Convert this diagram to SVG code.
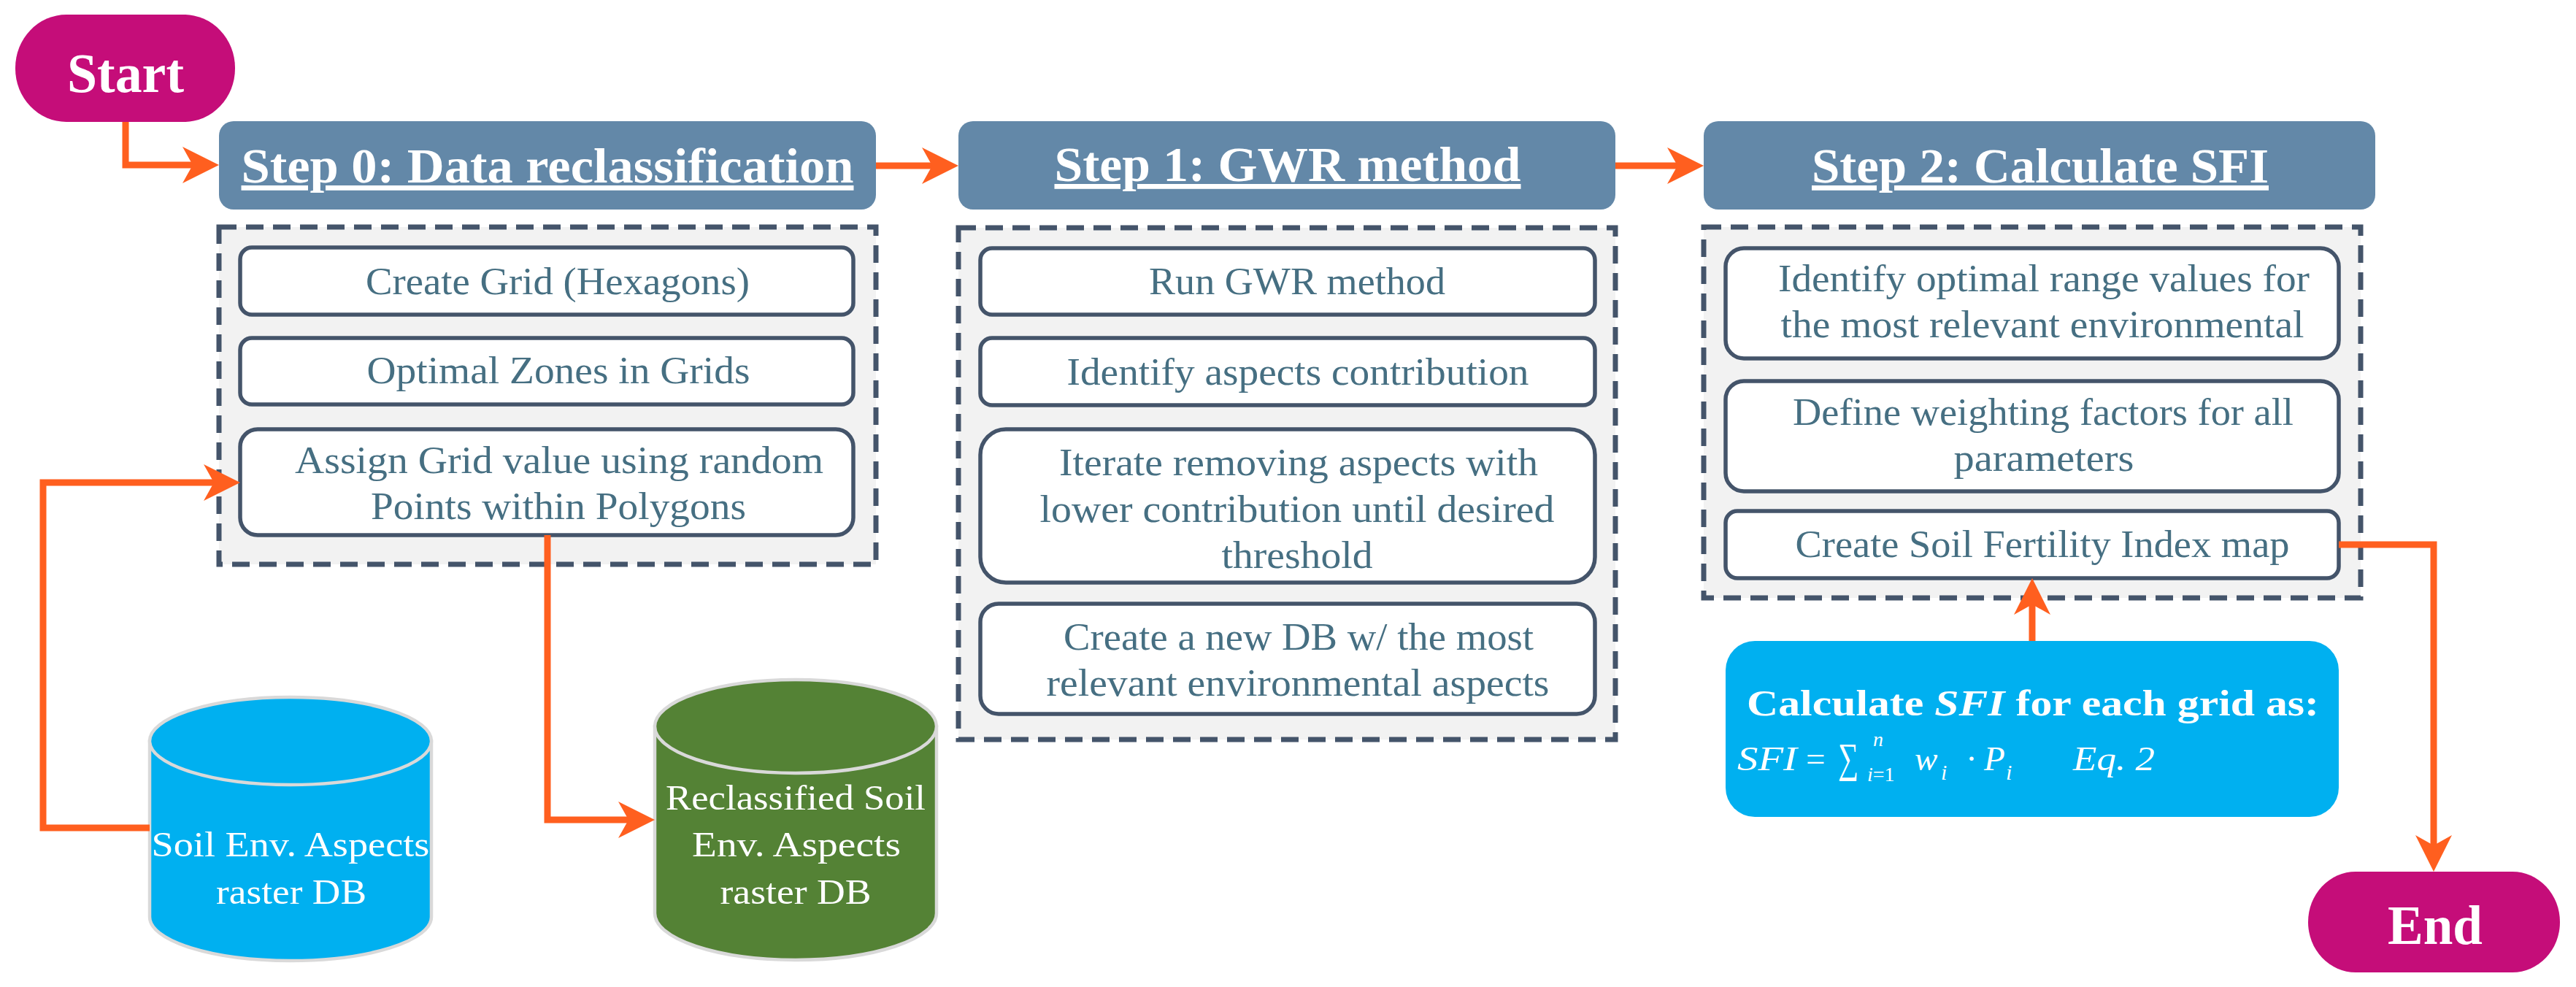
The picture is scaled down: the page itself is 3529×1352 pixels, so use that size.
<svg xmlns="http://www.w3.org/2000/svg" width="3529" height="1352" viewBox="0 0 3529 1352">
<style>
.bg{fill:#ffffff}
.term{fill:#C50D79}
.termtxt{font-family:"Liberation Serif","DejaVu Serif",serif;font-weight:bold;font-size:76px;fill:#ffffff;text-anchor:middle}
.hdr{fill:#6388A8}
.hdtxt{font-family:"Liberation Serif","DejaVu Serif",serif;font-weight:bold;font-size:68px;fill:#ffffff;text-anchor:middle;text-decoration:underline}
.cont{fill:#F2F2F2;stroke:#44546A;stroke-width:7;stroke-dasharray:24 13}
.box{fill:#ffffff;stroke:#44546A;stroke-width:5.5}
.btxt{font-family:"Liberation Serif","DejaVu Serif",serif;font-size:53px;fill:#466F82;text-anchor:middle}
.cyl{stroke:#D9D9D9;stroke-width:4.5}
.ctxt{font-family:"Liberation Serif","DejaVu Serif",serif;font-size:49px;fill:#ffffff;text-anchor:middle}
.calc{fill:#00B0F0}
.calctxt{font-family:"Liberation Serif","DejaVu Serif",serif;font-weight:bold;font-size:50px;fill:#ffffff;text-anchor:middle}
.eq{font-family:"Liberation Serif","DejaVu Serif",serif;font-size:47px;fill:#ffffff}
.it{font-style:italic}
.conn{fill:none;stroke:#FF5F1F;stroke-width:9;stroke-linejoin:miter}
</style>
<defs>
<marker id="ah" markerUnits="userSpaceOnUse" viewBox="-20 -30 60 60" markerWidth="60" markerHeight="60" refX="0" refY="0" orient="auto">
<path d="M-14,-25 L36,0 L-14,25 L0,0 Z" fill="#FF5F1F"/>
</marker>
</defs>
<rect class="bg" x="0" y="0" width="3529" height="1352"/>

<g id="start">
<rect class="term" x="21" y="20" width="301" height="147" rx="70" ry="73"/>
<text class="termtxt" x="172" y="126" textLength="160" lengthAdjust="spacingAndGlyphs">Start</text>
</g>

<g id="step0">
<g id="step0-header">
<rect class="hdr" x="300" y="166" width="900" height="121" rx="20"/>
<text class="hdtxt" x="750" y="250" textLength="839" lengthAdjust="spacingAndGlyphs">Step 0: Data reclassification</text>
</g>
<rect class="cont" x="300" y="311" width="900" height="462"/>
<g id="s0-grid">
<rect class="box" x="329" y="339" width="840" height="92" rx="16"/>
<text class="btxt" x="764" y="403" textLength="526" lengthAdjust="spacingAndGlyphs">Create Grid (Hexagons)</text>
</g>
<g id="s0-zones">
<rect class="box" x="329" y="463" width="840" height="91" rx="16"/>
<text class="btxt" x="765" y="525" textLength="525" lengthAdjust="spacingAndGlyphs">Optimal Zones in Grids</text>
</g>
<g id="s0-assign">
<rect class="box" x="329" y="588" width="840" height="145" rx="24"/>
<text class="btxt" x="766" y="648" textLength="724" lengthAdjust="spacingAndGlyphs">Assign Grid value using random</text>
<text class="btxt" x="765" y="711" textLength="514" lengthAdjust="spacingAndGlyphs">Points within Polygons</text>
</g>
</g>

<g id="step1">
<g id="step1-header">
<rect class="hdr" x="1313" y="166" width="900" height="121" rx="20"/>
<text class="hdtxt" x="1764" y="248" textLength="639" lengthAdjust="spacingAndGlyphs">Step 1: GWR method</text>
</g>
<rect class="cont" x="1313" y="312" width="900" height="701"/>
<g id="s1-run">
<rect class="box" x="1343" y="340" width="842" height="91" rx="16"/>
<text class="btxt" x="1777" y="403" textLength="406" lengthAdjust="spacingAndGlyphs">Run GWR method</text>
</g>
<g id="s1-identify">
<rect class="box" x="1343" y="463" width="842" height="92" rx="16"/>
<text class="btxt" x="1778" y="527" textLength="633" lengthAdjust="spacingAndGlyphs">Identify aspects contribution</text>
</g>
<g id="s1-iterate">
<rect class="box" x="1343" y="588" width="842" height="210" rx="35"/>
<text class="btxt" x="1779" y="651" textLength="656" lengthAdjust="spacingAndGlyphs">Iterate removing aspects with</text>
<text class="btxt" x="1777" y="715" textLength="705" lengthAdjust="spacingAndGlyphs">lower contribution until desired</text>
<text class="btxt" x="1777" y="778" textLength="207" lengthAdjust="spacingAndGlyphs">threshold</text>
</g>
<g id="s1-newdb">
<rect class="box" x="1343" y="827" width="842" height="151" rx="25"/>
<text class="btxt" x="1779" y="890" textLength="644" lengthAdjust="spacingAndGlyphs">Create a new DB w/ the most</text>
<text class="btxt" x="1778" y="953" textLength="689" lengthAdjust="spacingAndGlyphs">relevant environmental aspects</text>
</g>
</g>

<g id="step2">
<g id="step2-header">
<rect class="hdr" x="2334" y="166" width="920" height="121" rx="20"/>
<text class="hdtxt" x="2795" y="250" textLength="626" lengthAdjust="spacingAndGlyphs">Step 2: Calculate SFI</text>
</g>
<rect class="cont" x="2334" y="311" width="900" height="508"/>
<g id="s2-optimal">
<rect class="box" x="2364" y="340" width="840" height="151" rx="25"/>
<text class="btxt" x="2800" y="399" textLength="728" lengthAdjust="spacingAndGlyphs">Identify optimal range values for</text>
<text class="btxt" x="2798" y="462" textLength="717" lengthAdjust="spacingAndGlyphs">the most relevant environmental</text>
</g>
<g id="s2-weights">
<rect class="box" x="2364" y="522" width="840" height="151" rx="25"/>
<text class="btxt" x="2799" y="582" textLength="686" lengthAdjust="spacingAndGlyphs">Define weighting factors for all</text>
<text class="btxt" x="2800" y="645" textLength="247" lengthAdjust="spacingAndGlyphs">parameters</text>
</g>
<g id="s2-map">
<rect class="box" x="2364" y="700" width="840" height="92" rx="16"/>
<text class="btxt" x="2798" y="763" textLength="677" lengthAdjust="spacingAndGlyphs">Create Soil Fertility Index map</text>
</g>
</g>

<g id="calc-sfi">
<rect class="calc" x="2364" y="878" width="840" height="241" rx="40"/>
<text class="calctxt" x="2785" y="980" textLength="784" lengthAdjust="spacingAndGlyphs">Calculate <tspan class="it">SFI</tspan> for each grid as:</text>
<text class="eq">
<tspan class="it" x="2380" y="1055" textLength="82" lengthAdjust="spacingAndGlyphs">SFI</tspan>
<tspan x="2474" y="1055">=</tspan>
<tspan x="2518" y="1058" font-size="58" textLength="28" lengthAdjust="spacingAndGlyphs">∑</tspan>
<tspan class="it" x="2566" y="1022" font-size="28">n</tspan>
<tspan class="it" x="2558" y="1070" font-size="28">i</tspan><tspan y="1070" font-size="28">=1</tspan>
<tspan class="it" x="2623" y="1055">w</tspan>
<tspan class="it" x="2659" y="1068" font-size="30">i</tspan>
<tspan x="2693" y="1055">·</tspan>
<tspan class="it" x="2718" y="1055">P</tspan>
<tspan class="it" x="2748" y="1068" font-size="30">i</tspan>
<tspan class="it" x="2840" y="1055" textLength="112" lengthAdjust="spacingAndGlyphs">Eq. 2</tspan>
</text>
</g>

<g id="end">
<rect class="term" x="3162" y="1194" width="345" height="138" rx="65" ry="69"/>
<text class="termtxt" x="3336" y="1293" textLength="130" lengthAdjust="spacingAndGlyphs">End</text>
</g>

<g id="db-soil">
<path class="cyl" fill="#00B0F0" d="M205,1015 V1256 A193,60 0 0 0 591,1256 V1015 Z"/>
<ellipse class="cyl" fill="#00B0F0" cx="398" cy="1015" rx="193" ry="60"/>
<text class="ctxt" x="398" y="1173" textLength="381" lengthAdjust="spacingAndGlyphs">Soil Env. Aspects</text>
<text class="ctxt" x="399" y="1238" textLength="206" lengthAdjust="spacingAndGlyphs">raster DB</text>
</g>

<g id="db-reclass">
<path class="cyl" fill="#548235" d="M897,995 V1251 A193,64 0 0 0 1283,1251 V995 Z"/>
<ellipse class="cyl" fill="#548235" cx="1090" cy="995" rx="193" ry="64"/>
<text class="ctxt" x="1090" y="1109" textLength="356" lengthAdjust="spacingAndGlyphs">Reclassified Soil</text>
<text class="ctxt" x="1091" y="1173" textLength="286" lengthAdjust="spacingAndGlyphs">Env. Aspects</text>
<text class="ctxt" x="1090" y="1238" textLength="207" lengthAdjust="spacingAndGlyphs">raster DB</text>
</g>

<g id="connectors">
<path class="conn" d="M172,167 V226 H264" marker-end="url(#ah)"/>
<path class="conn" d="M1200,227 H1277" marker-end="url(#ah)"/>
<path class="conn" d="M2213,227 H2298" marker-end="url(#ah)"/>
<path class="conn" d="M205,1134 H59 V661 H293" marker-end="url(#ah)"/>
<path class="conn" d="M750,733 V1123 H861" marker-end="url(#ah)"/>
<path class="conn" d="M3204,746 H3334 V1158" marker-end="url(#ah)"/>
<path class="conn" d="M2784,878 V828" marker-end="url(#ah)"/>
</g>
</svg>
